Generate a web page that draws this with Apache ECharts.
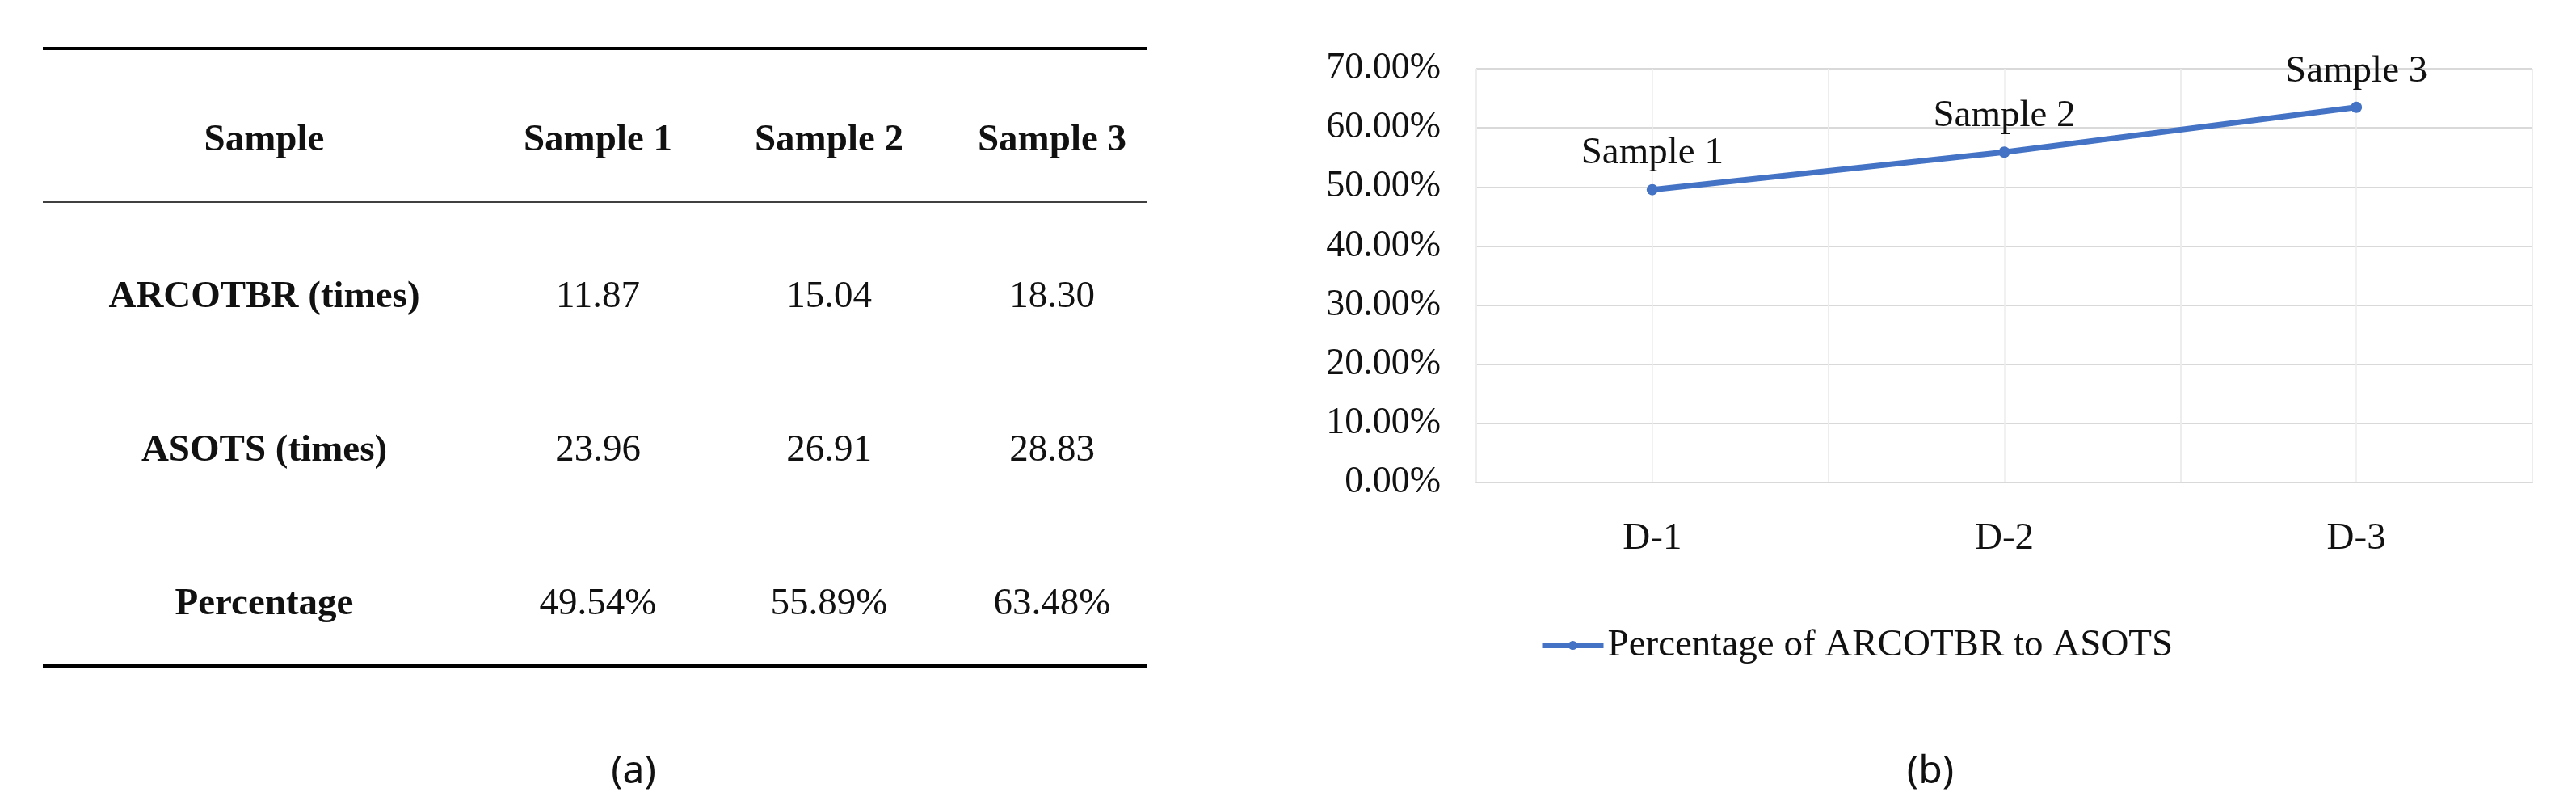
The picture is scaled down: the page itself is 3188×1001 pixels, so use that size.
<!DOCTYPE html>
<html>
<head>
<meta charset="utf-8">
<script src="https://cdn.jsdelivr.net/npm/echarts@6/dist/echarts.min.js"></script>
<style>html,body{margin:0;padding:0;background:#fff}#main{width:3188px;height:1001px}</style>
</head>
<body>
<div id="main"></div>
<script>
// table data (panel a)
var rowNames = ['ARCOTBR (times)', 'ASOTS (times)', 'Percentage'];
var sampleNames = ['Sample 1', 'Sample 2', 'Sample 3'];
var arcotbr = ['11.87', '15.04', '18.30'];
var asots = ['23.96', '26.91', '28.83'];
var pctText = ['49.54%', '55.89%', '63.48%'];

// chart data (panel b)
var categories = ['D-1', 'D-2', 'D-3'];
var percentage = [49.54, 55.89, 63.48];
var seriesName = 'Percentage of ARCOTBR to ASOTS';

var serif = 'Liberation Serif';
var colX = [327, 740, 1026, 1302];
var rowY = [174, 368, 558, 748];

var g = [];
function txt(x, y, s, bold) {
    g.push({type: 'text', x: x, y: y, style: {text: s, fill: '#111', font: (bold ? 'bold ' : '') + '47px "' + serif + '"', textAlign: 'center', textVerticalAlign: 'middle'}});
}
function hline(y, w) {
    g.push({type: 'line', shape: {x1: 53, y1: y, x2: 1420, y2: y}, style: {stroke: '#000', lineWidth: w}});
}
hline(60, 4); hline(250, 1.5); hline(824, 4);
txt(colX[0], rowY[0], 'Sample', true);
sampleNames.forEach(function (s, i) { txt(colX[i + 1], rowY[0], s, true); });
var rows = [arcotbr, asots, pctText];
rows.forEach(function (r, j) {
    txt(colX[0], rowY[j + 1], rowNames[j], true);
    r.forEach(function (v, i) { txt(colX[i + 1], rowY[j + 1], v, false); });
});
g.push({type: 'text', x: 784, y: 955, style: {text: '(a)', fill: '#111', font: '48px "Noto Sans"', textAlign: 'center', textVerticalAlign: 'middle'}});
g.push({type: 'text', x: 2389, y: 955, style: {text: '(b)', fill: '#111', font: '48px "Noto Sans"', textAlign: 'center', textVerticalAlign: 'middle'}});

var myChart = echarts.init(document.getElementById('main'));
var option = {
    animation: false,
    textStyle: {fontFamily: serif},
    graphic: g,
    legend: {
        top: 770, left: 1900,
        itemWidth: 76, itemHeight: 14, itemGap: 4,
        lineStyle: {width: 7},
        textStyle: {fontSize: 47, color: '#111', fontFamily: serif},
        data: [seriesName]
    },
    grid: {left: 1827, right: 54, top: 85, bottom: 404},
    xAxis: [{
        type: 'category', data: categories, boundaryGap: true,
        axisLine: {lineStyle: {color: '#d9d9d9', width: 2}},
        axisTick: {show: false},
        splitLine: {show: true, lineStyle: {color: '#e8e8e8', width: 1.5}},
        axisLabel: {fontSize: 47, color: '#111', margin: 46, fontFamily: serif}
    }, {
        type: 'category', data: ['', '', '', '', '', '', ''], boundaryGap: false,
        position: 'bottom', axisLine: {show: false}, axisTick: {show: false}, axisLabel: {show: false},
        splitLine: {show: true, lineStyle: {color: '#ececec', width: 1.5}}
    }],
    yAxis: {
        type: 'value', min: 0, max: 70, interval: 10,
        axisLine: {show: false}, axisTick: {show: false},
        splitLine: {lineStyle: {color: '#d9d9d9', width: 2}},
        axisLabel: {fontSize: 46, color: '#111', margin: 44, fontFamily: serif,
            formatter: function (v) { return v.toFixed(2) + '%'; }}
    },
    series: [{
        name: seriesName, type: 'line', data: percentage,
        color: '#4472C4', symbol: 'circle', symbolSize: 14,
        lineStyle: {width: 7, color: '#4472C4'},
        label: {show: true, position: 'top', distance: 14, fontSize: 47, color: '#111', fontFamily: serif,
            formatter: function (p) { return sampleNames[p.dataIndex]; }}
    }]
};
myChart.setOption(option, true);
</script>
</body>
</html>
